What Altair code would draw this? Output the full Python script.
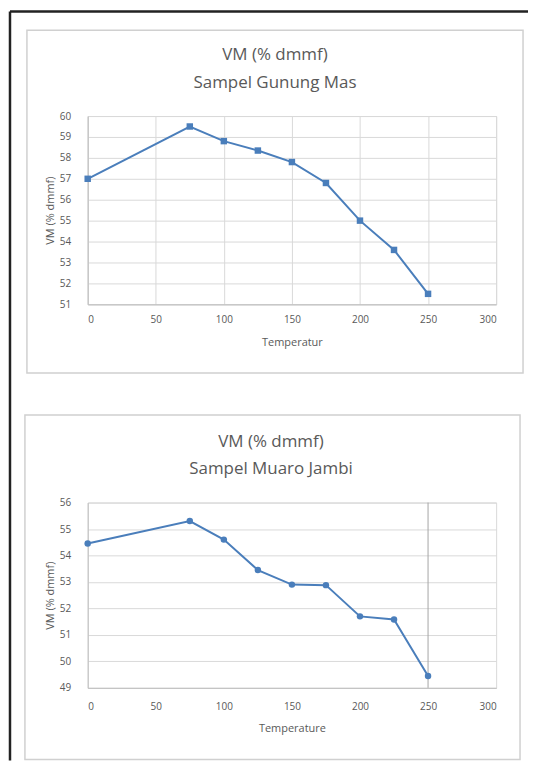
import altair as alt
import pandas as pd

# ---- data ----
temps = [0, 75, 100, 125, 150, 175, 200, 225, 250]
vm_gunung_mas = [57.0, 59.5, 58.8, 58.35, 57.8, 56.8, 55.0, 53.6, 51.5]
vm_muaro_jambi = [54.45, 55.3, 54.6, 53.45, 52.9, 52.88, 51.7, 51.58, 49.45]
x_ticks = [0, 50, 100, 150, 200, 250, 300]
y_ticks_top = [51, 52, 53, 54, 55, 56, 57, 58, 59, 60]
y_ticks_bottom = [49, 50, 51, 52, 53, 54, 55, 56]
bottom_vline = [250]

title_top = ["VM (% dmmf)", "Sampel Gunung Mas"]
title_bottom = ["VM (% dmmf)", "Sampel Muaro Jambi"]

FONT = "Open Sans"
TXT = "#595959"
GRID = "#D9D9D9"
LINE = "#4A7EBB"

df1 = pd.DataFrame({"t": temps, "vm": vm_gunung_mas})
df2 = pd.DataFrame({"t": temps, "vm": vm_muaro_jambi})
one = alt.Data(values=[{}])
XS = alt.Scale(domain=[0, 300], nice=False)


def make_panel(df, yticks, xtitle, title, grid_x, shape, box, frame, xlabpad, xtitpad,
               height, title_pos, vline=None):
    x = alt.X("t:Q", scale=XS,
              axis=alt.Axis(values=x_ticks, title=xtitle, grid=grid_x,
                            labelPadding=xlabpad, titlePadding=xtitpad))
    y = alt.Y("vm:Q", scale=alt.Scale(domain=[yticks[0], yticks[-1]], nice=False, zero=False),
              axis=alt.Axis(values=yticks, title="VM (% dmmf)", grid=True,
                            labelPadding=17, titlePadding=4))
    layers = []
    bx = alt.Chart(one).mark_rect(fillOpacity=0, stroke="#D0D0D0", strokeWidth=1.5).encode(
        x=alt.value(box[0]), x2=alt.value(box[1]), y=alt.value(box[2]), y2=alt.value(box[3]))
    layers.append(bx)
    if frame is not None:
        fx, fy, fy2, fx2 = frame
        layers.append(alt.Chart(one).mark_rule(color="#222222", strokeWidth=2.5).encode(
            x=alt.value(fx), y=alt.value(fy), y2=alt.value(fy2)))
        layers.append(alt.Chart(one).mark_rule(color="#222222", strokeWidth=2.5).encode(
            x=alt.value(fx), x2=alt.value(fx2), y=alt.value(fy)))
    cx, y1, y2 = title_pos
    for txt, ty in zip(title, (y1, y2)):
        layers.append(alt.Chart(one).mark_text(
            font=FONT, fontSize=17, color=TXT, align="center", baseline="middle").encode(
            x=alt.value(cx), y=alt.value(ty), text=alt.value(txt)))
    if vline is not None:
        layers.append(alt.Chart(pd.DataFrame({"t": vline})).mark_rule(color="#A6A6A6", strokeWidth=1).encode(
            x=alt.X("t:Q", scale=XS)))
    line = alt.Chart(df).mark_line(color=LINE, strokeWidth=2).encode(x=x, y=y)
    pts = alt.Chart(df).mark_point(shape=shape, filled=True, size=42, color=LINE, opacity=1).encode(x=x, y=y)
    layers += [line, pts]
    return alt.layer(*layers).properties(width=410, height=height)


top = make_panel(df1, y_ticks_top, "Temperatur", title_top, True, "square",
                 box=(-61, 437, -86, 258), frame=(-78, -105, 647, 442),
                 xlabpad=10, xtitpad=12, height=189, title_pos=(188, -61, -33))

bottom = make_panel(df2, y_ticks_bottom, "Temperature", title_bottom, False, "circle",
                    box=(-63, 434, -88, 258), frame=None, xlabpad=14, xtitpad=11,
                    height=186, title_pos=(184, -61, -34), vline=bottom_vline)

chart = alt.vconcat(top, bottom, spacing=199, bounds="flush").properties(
    padding=0
).configure_view(
    stroke=GRID, strokeWidth=1
).configure_axis(
    domainColor="#BFBFBF", ticks=False, labelColor=TXT, titleColor=TXT,
    labelFont=FONT, titleFont=FONT, labelFontSize=10, titleFontSize=11,
    titleFontWeight="normal", gridColor=GRID, gridWidth=1
)

chart.save("out.html", embed_options={"renderer": "svg", "actions": False})
